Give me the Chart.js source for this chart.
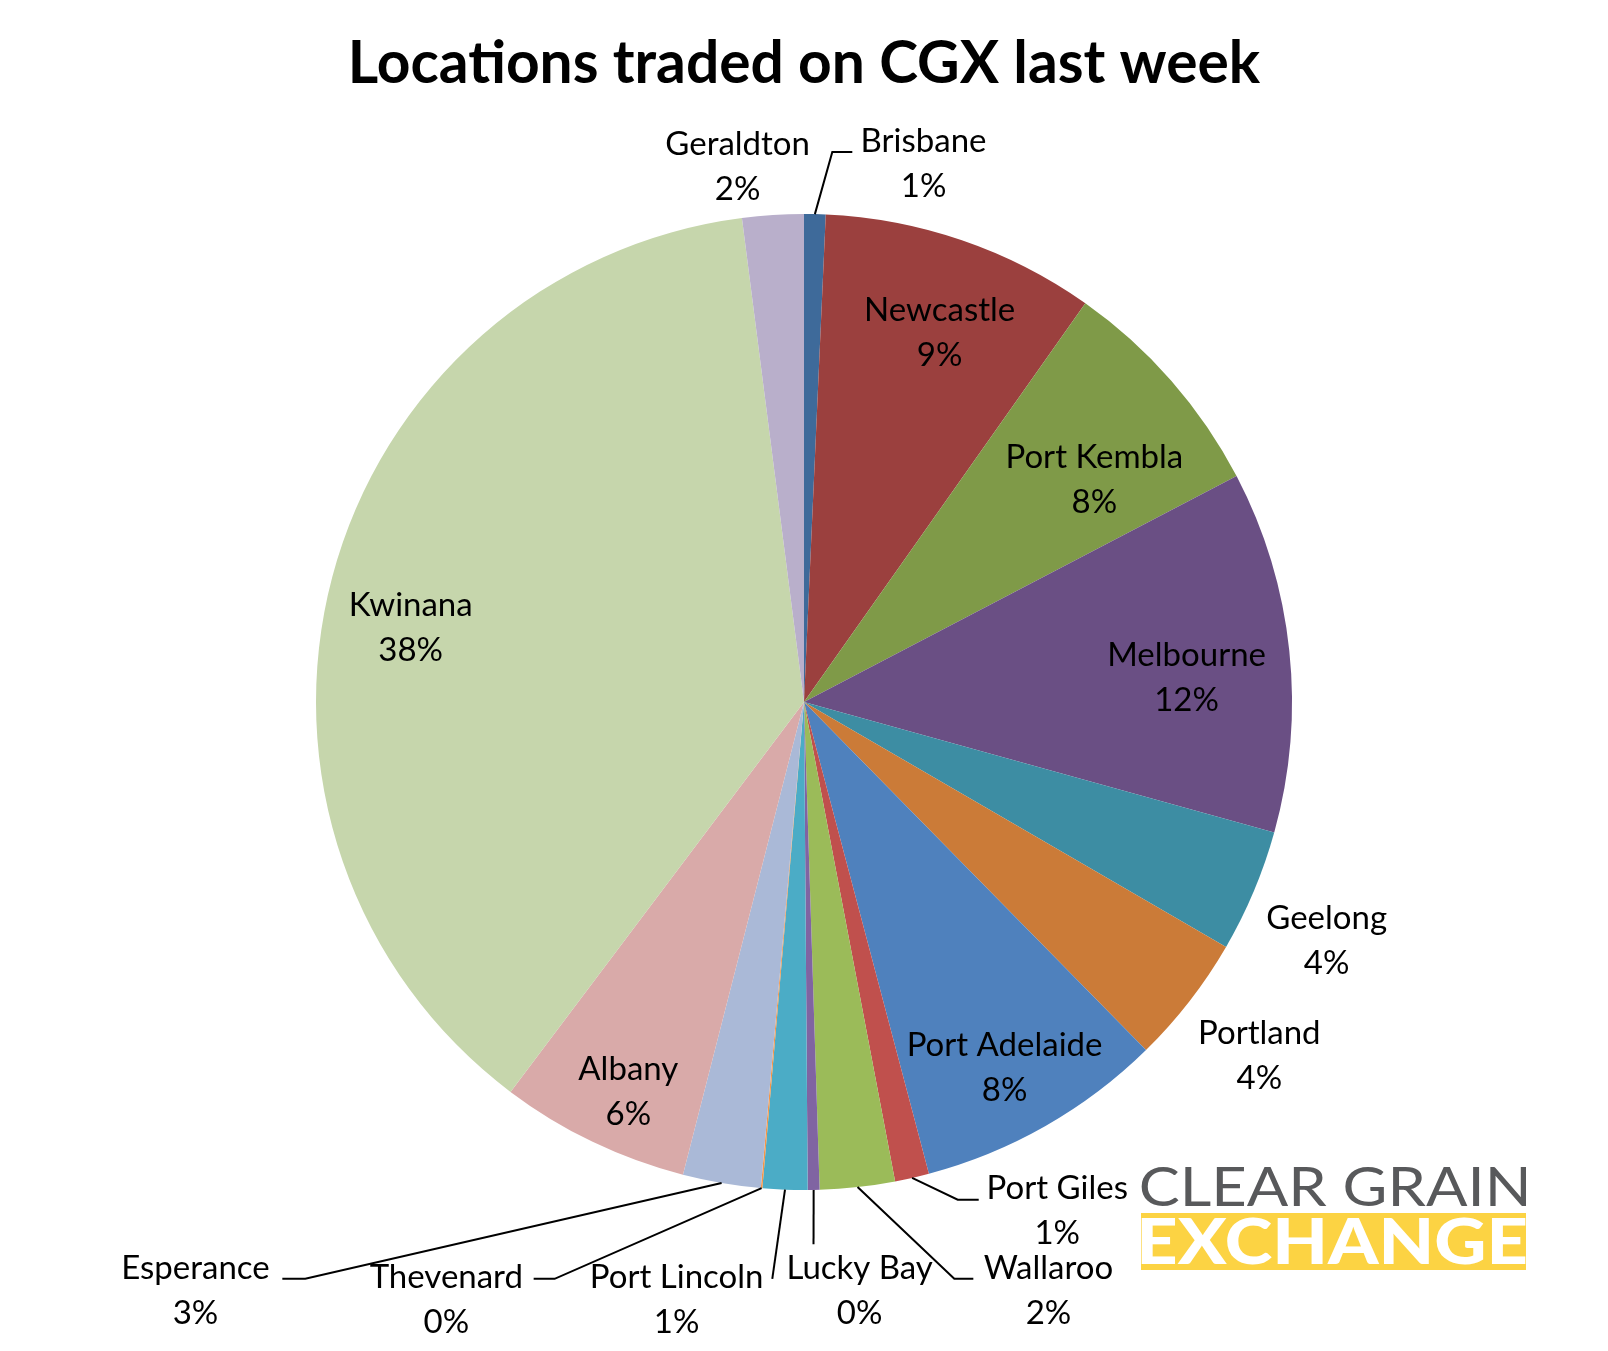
<!DOCTYPE html>
<html>
<head>
<meta charset="utf-8">
<script src="https://cdn.jsdelivr.net/npm/chart.js@4/dist/chart.umd.min.js"></script>
<style>
  html, body { margin: 0; padding: 0; background: #ffffff; }
  #wrap { width: 1608px; height: 1351px; }
</style>
</head>
<body>
<div id="wrap"><canvas id="c" width="1608" height="1351"></canvas></div>
<script>
// ---- Data ----
const chartTitle = 'Locations traded on CGX last week';
const categories = ['Brisbane', 'Newcastle', 'Port Kembla', 'Melbourne', 'Geelong', 'Portland',
  'Port Adelaide', 'Port Giles', 'Wallaroo', 'Lucky Bay', 'Port Lincoln', 'Thevenard',
  'Esperance', 'Albany', 'Kwinana', 'Geraldton'];
const shareValues = [0.71, 9.07, 7.56, 11.97, 4.06, 4.27, 8.24, 1.13, 2.48, 0.39, 1.48, 0.05,
  2.58, 6.28, 37.70, 2.03];
const logoLine1 = 'CLEAR GRAIN';
const logoLine2 = 'EXCHANGE';

// ---- Styles ----
const sliceColors = ['#3E6A9A', '#9B403E', '#7F9A48', '#6A4F84', '#3D8DA3', '#CB7B38',
  '#4F81BD', '#C0504D', '#9BBB59', '#8064A2', '#4BACC6', '#F79646',
  '#AAB9D7', '#D9AAA9', '#C6D6AC', '#B9AFCB'];

// Label block centres, in units of the pie radius relative to the pie centre
const labelAnchor = [
  [0.245, -1.103], [0.278, -0.757], [0.595, -0.456], [0.784, -0.050],
  [1.071, 0.490], [0.933, 0.726], [0.411, 0.749], [0.519, 1.042],
  [0.501, 1.207], [0.114, 1.207], [-0.261, 1.225], [-0.733, 1.225],
  [-1.247, 1.207], [-0.360, 0.798], [-0.806, -0.152], [-0.136, -1.096]
];
// Leader lines: [elbow, end] in radius units, or null
const leaderPath = [
  [[0.058, -1.127], [0.099, -1.127]], null, null, null,
  null, null, null, [[0.315, 1.020], [0.358, 1.020]],
  [[0.308, 1.182], [0.347, 1.182]], [[0.0195, 1.111], [0.0195, 1.111]],
  [[-0.065, 1.182], [-0.065, 1.182]], [[-0.511, 1.182], [-0.554, 1.182]],
  [[-1.022, 1.182], [-1.069, 1.182]], null, null, null
];

const FONT = 'Lato, "Open Sans", sans-serif';

const overlayPlugin = {
  id: 'overlay',
  afterDatasetsDraw(chart) {
    const ctx = chart.ctx;
    const meta = chart.getDatasetMeta(0);
    const a0 = meta.data[0];
    const cx = a0.x, cy = a0.y, R = a0.outerRadius;
    const total = shareValues.reduce((s, v) => s + v, 0);

    // leader lines
    ctx.save();
    ctx.strokeStyle = '#000000';
    ctx.lineWidth = 2;
    ctx.lineJoin = 'miter';
    meta.data.forEach((arc, i) => {
      const lp = leaderPath[i];
      if (!lp) return;
      const mid = (arc.startAngle + arc.endAngle) / 2;
      const sx = cx + R * Math.cos(mid), sy = cy + R * Math.sin(mid);
      ctx.beginPath();
      ctx.moveTo(sx, sy);
      ctx.lineTo(cx + lp[0][0] * R, cy + lp[0][1] * R);
      ctx.lineTo(cx + lp[1][0] * R, cy + lp[1][1] * R);
      ctx.stroke();
    });
    ctx.restore();

    // labels
    ctx.save();
    ctx.fillStyle = '#000000';
    ctx.font = '400 33px ' + FONT;
    ctx.textAlign = 'center';
    ctx.textBaseline = 'middle';
    categories.forEach((name, i) => {
      const x = cx + labelAnchor[i][0] * R;
      const y = cy + labelAnchor[i][1] * R;
      const pct = Math.round(shareValues[i] / total * 100) + '%';
      ctx.fillText(name, x, y - 22.5);
      ctx.fillText(pct, x, y + 22.5);
    });
    ctx.restore();
  },
  afterDraw(chart) {
    const ctx = chart.ctx;
    const meta = chart.getDatasetMeta(0);
    const cx = meta.data[0].x;

    // title
    ctx.save();
    ctx.fillStyle = '#000000';
    ctx.font = '700 56px ' + FONT;
    const tw = ctx.measureText(chartTitle).width;
    const size = 56 * 912 / tw;
    ctx.font = '700 ' + size.toFixed(1) + 'px ' + FONT;
    ctx.textAlign = 'center';
    ctx.textBaseline = 'alphabetic';
    ctx.fillText(chartTitle, cx, 83);
    ctx.restore();

    // logo
    const lx0 = 1141, lx1 = 1526;
    ctx.save();
    ctx.fillStyle = '#FCD343';
    ctx.fillRect(lx0, 1213, lx1 - lx0, 57);
    const fitText = (txt, font, color, baseline) => {
      ctx.font = font;
      const m = ctx.measureText(txt);
      const inkL = m.actualBoundingBoxLeft, inkW = m.actualBoundingBoxLeft + m.actualBoundingBoxRight;
      const sc = (lx1 - lx0) / inkW;
      ctx.save();
      ctx.translate(lx0, baseline);
      ctx.scale(sc, 1);
      ctx.fillStyle = color;
      ctx.textAlign = 'left';
      ctx.textBaseline = 'alphabetic';
      ctx.fillText(txt, inkL, 0);
      ctx.restore();
    };
    fitText(logoLine1, '400 55px ' + FONT, '#58595B', 1206);
    fitText(logoLine2, '900 62px ' + FONT, '#FFFFFF', 1264);
    ctx.restore();
  }
};

new Chart(document.getElementById('c'), {
  type: 'pie',
  data: {
    labels: categories,
    datasets: [{
      data: shareValues,
      backgroundColor: sliceColors,
      borderWidth: 0,
      hoverOffset: 0,
      offset: 0
    }]
  },
  options: {
    responsive: false,
    animation: false,
    layout: { padding: { top: 214, bottom: 161, left: 0, right: 0 } },
    plugins: {
      legend: { display: false },
      tooltip: { enabled: false },
      title: { display: false }
    }
  },
  plugins: [overlayPlugin]
});
</script>
</body>
</html>
